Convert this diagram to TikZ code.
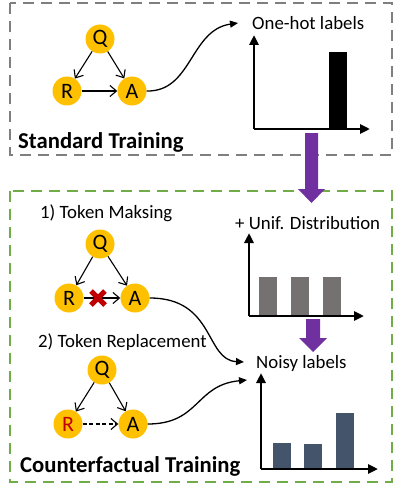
\documentclass[tikz,border=0pt]{standalone}
\usepackage{fontspec}
\setmainfont{Carlito}
\usetikzlibrary{arrows.meta,positioning}

\definecolor{tokyellow}{HTML}{FFC000}
\definecolor{boxgray}{HTML}{7F7F7F}
\definecolor{boxgreen}{HTML}{70AD47}
\definecolor{flowpurple}{HTML}{7030A0}
\definecolor{bargray}{HTML}{767171}
\definecolor{barslate}{HTML}{44546A}
\definecolor{maskred}{HTML}{C00000}

\tikzset{
  tok/.style={circle, fill=tokyellow, minimum size=29pt, inner sep=0pt, font=\fontsize{22}{22}\selectfont},
  dep/.style={-{Straight Barb[length=6.5pt,width=11pt]}, line width=1.1pt},
  link/.style={-{Triangle[length=8pt,width=7pt]}, line width=1.3pt},
  axis/.style={-{Triangle[length=10pt,width=9pt]}, line width=2.6pt},
  lbl/.style={font=\fontsize{18.8}{18.8}\selectfont, inner sep=0pt},
  title/.style={font=\bfseries\fontsize{22.7}{22.7}\selectfont, inner sep=0pt},
  frame/.style={line width=2.6pt, dash pattern=on 11pt off 7pt},
}

\begin{document}
\begin{tikzpicture}[x=1pt,y=-1pt]
\useasboundingbox (0,0) rectangle (394,484);

% frames
\draw[frame, boxgray] (10,3) rectangle (392,155);
\draw[frame, boxgreen] (10,191) rectangle (392,482);

% standard training
\node[tok] (q1) at (100,39) {Q};
\node[tok] (r1) at (67,91) {R};
\node[tok] (a1) at (132,91) {A};
\draw[dep] (q1) -- (r1);
\draw[dep] (q1) -- (a1);
\draw[dep] (r1) -- (a1);
\node[title, anchor=west] (std) at (18,142) {Standard Training};

% one-hot labels
\node[lbl, anchor=west] (onehot) at (252,23) {One-hot labels};
\coordinate (o1) at (254,129);
\draw[axis] (o1) -- (254,35);
\draw[axis] (o1) -- (370,129);
\fill (329,52) rectangle (347,128);
\draw[link] (a1.east) .. controls (192,92) and (190,30) .. ([xshift=-14pt]onehot.west);

% to uniform
\fill[flowpurple] (305,133) -- (318,133) -- (318,189) -- (325,189) -- (311.5,203) -- (298,189) -- (305,189) -- cycle;

% counterfactual training
\node[lbl, anchor=west] (mask) at (40,213) {1) Token Maksing};
\node[tok] (q2) at (100,244) {Q};
\node[tok] (r2) at (69,298) {R};
\node[tok] (a2) at (135,298) {A};
\draw[dep] (q2) -- (r2);
\draw[dep] (q2) -- (a2);
\draw[dep] (r2) -- (a2);
\draw[maskred, line width=5pt] (91,291) -- (105,305) (91,305) -- (105,291);

\node[lbl, anchor=west] (repl) at (38,342) {2) Token Replacement};
\node[tok] (q3) at (102,370) {Q};
\node[tok, text=maskred] (r3) at (68,424) {R};
\node[tok] (a3) at (133,424) {A};
\draw[dep] (q3) -- (r3);
\draw[dep] (q3) -- (a3);
\draw[dep, dash pattern=on 4pt off 2.5pt] (r3) -- (a3);
\node[title, anchor=west] (cf) at (20,466) {Counterfactual Training};

% uniform distribution
\node[lbl, anchor=west] (unif) at (235,223) {+ Unif. Distribution};
\coordinate (o2) at (249,316);
\draw[axis] (o2) -- (249,233);
\draw[axis] (o2) -- (364,316);
\fill[bargray] (259,277) rectangle (277,315);
\fill[bargray] (291,277) rectangle (309,315);
\fill[bargray] (323,277) rectangle (341,315);

% to noisy
\fill[flowpurple] (306,319) -- (320,319) -- (320,338) -- (327,338) -- (313,352) -- (299,338) -- (306,338) -- cycle;

% noisy labels
\node[lbl, anchor=west] (noisy) at (256,363) {Noisy labels};
\coordinate (o3) at (261,469);
\draw[axis] (o3) -- (261,373);
\draw[axis] (o3) -- (378,469);
\fill[barslate] (273,443) rectangle (291,468);
\fill[barslate] (304,444) rectangle (322,468);
\fill[barslate] (336,413) rectangle (354,468);

\draw[link] (a2.east) .. controls (215,298) and (205,360) .. ([xshift=-12pt,yshift=1pt]noisy.west);
\draw[link] (a3.east) .. controls (200,424) and (195,385) .. ([xshift=-9pt,yshift=-17pt]noisy.west);
\end{tikzpicture}
\end{document}
